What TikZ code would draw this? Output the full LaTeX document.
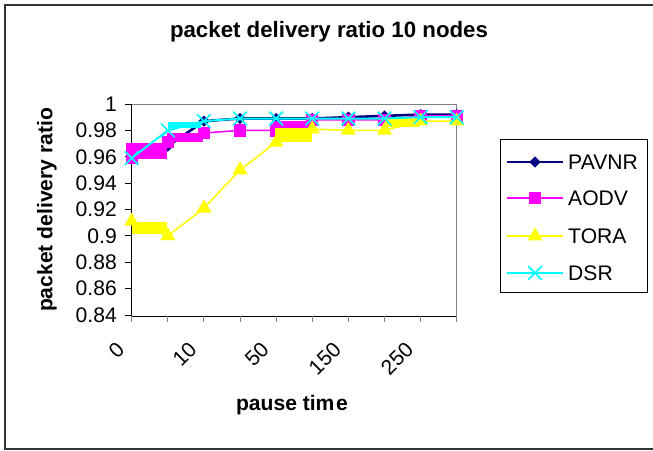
\documentclass[tikz,border=0pt]{standalone}
\usepackage{fontspec}
\setmainfont{Liberation Sans}
\usetikzlibrary{shapes.geometric,shapes.misc,positioning}

\definecolor{pavcol}{RGB}{0,0,128}
\definecolor{aodvcol}{RGB}{255,0,255}
\definecolor{toracol}{RGB}{255,255,0}
\definecolor{dsrcol}{RGB}{0,255,255}

\tikzset{
  txt/.style={font=\fontsize{18}{20}\selectfont,inner sep=0pt},
  boldtxt/.style={font=\fontsize{18}{20}\selectfont\bfseries,inner sep=0pt},
  pavline/.style={draw=pavcol,line width=2.2pt},
  aodvline/.style={draw=aodvcol,line width=1.3pt},
  toraline/.style={draw=toracol,line width=1.3pt},
  dsrline/.style={draw=dsrcol,line width=1.7pt},
  pavmark/.style={diamond,fill=pavcol,inner sep=0pt,minimum size=0.34cm},
  aodvmark/.style={rectangle,fill=aodvcol,inner sep=0pt,minimum size=0.37cm},
  toramark/.style={regular polygon,regular polygon sides=3,fill=toracol,inner sep=0pt,minimum size=0.52cm},
  dsrmark/.style={cross out,draw=dsrcol,line width=1.4pt,inner sep=0pt,minimum size=0.36cm}
}

\begin{document}
\begin{tikzpicture}[x=0.03cm,y=-0.03cm]
\useasboundingbox (0,0) rectangle (653,450);
% chart frame
\draw[line width=1.2pt,draw=black!80] (5,5) rectangle (690,449);

\node[boldtxt,font=\fontsize{19}{21}\selectfont\bfseries] (title) at (329,32) {packet delivery ratio 10 nodes};

% plot area
\draw[line width=0.8pt,draw=gray] (131.7,104) -- (456.7,104) -- (456.7,316);
\draw[line width=0.8pt] (131.7,104) -- (131.7,316) -- (456.7,316);
\foreach \v/\t in {1/1,0.98/0.98,0.96/0.96,0.94/0.94,0.92/0.92,0.9/0.9,0.88/0.88,0.86/0.86,0.84/0.84} {
  \draw[line width=0.8pt] (125,{104+1318.75*(1-\v)}) -- (131.7,{104+1318.75*(1-\v)});
  \node[txt,anchor=east] at (117,{104+1318.75*(1-\v)}) {\t};
}
\foreach \i in {0,...,9}
  \draw[line width=0.8pt,draw=gray] ({131.7+36.11*\i},316) -- ({131.7+36.11*\i},322);
\foreach \i/\t in {0/0,2/10,4/50,6/150,8/250}
  \node[txt,rotate=45,anchor=east] at ({131.7+36.11*\i-11},346) {\t};

\node[boldtxt,rotate=90] (ylab) at (47,210) {packet delivery ratio};
\node[boldtxt] (xlab) at (292,405) {pause tim\hspace{1.5pt}e};

% PAVNR
\foreach \v [count=\i from 0] in {0.960,0.968,0.987,0.989,0.989,0.989,0.990,0.991,0.992,0.992}
  \coordinate (pav\i) at ({131.7+36.11*\i},{104+1318.75*(1-\v)});
\draw[pavline] (pav0) \foreach \i in {1,...,9}{-- (pav\i)};
\foreach \i in {0,...,9} \node[pavmark] at (pav\i) {};

% AODV
\fill[aodvcol] (126,143) rectangle (167,159);
\fill[aodvcol] (167,133) rectangle (203,142);
\fill[aodvcol] (273,121) rectangle (312,128);
\foreach \v [count=\i from 0] in {0.959,0.971,0.978,0.980,0.980,0.988,0.988,0.988,0.991,0.991}
  \coordinate (aodv\i) at ({131.7+36.11*\i},{104+1318.75*(1-\v)});
\draw[aodvline] (aodv0) \foreach \i in {1,...,9}{-- (aodv\i)};
\foreach \i in {0,...,9} \node[aodvmark] at (aodv\i) {};

% TORA
\fill[toracol] (132,222) rectangle (167,234);
\fill[toracol] (275,128) rectangle (312,142);
\fill[toracol] (385,118) rectangle (420,127);
\foreach \v [count=\i from 0] in {0.911,0.900,0.921,0.950,0.971,0.981,0.980,0.980,0.987,0.987}
  \coordinate (tora\i) at ({131.7+36.11*\i},{104+1318.75*(1-\v)});
\draw[toraline] (tora0) \foreach \i in {1,...,9}{-- (tora\i)};
\foreach \i in {0,...,9} \node[toramark] at (tora\i) {};

% DSR
\fill[dsrcol] (168,122) rectangle (201,128);
\foreach \v [count=\i from 0] in {0.959,0.980,0.987,0.989,0.989,0.989,0.989,0.989,0.990,0.990}
  \coordinate (dsr\i) at ({131.7+36.11*\i},{104+1318.75*(1-\v)});
\draw[dsrline] (dsr0) \foreach \i in {1,...,9}{-- (dsr\i)};
\foreach \i in {0,...,9} \node[dsrmark] at (dsr\i) {};

% legend
\draw[line width=0.8pt] (500,139) rectangle (647,292);
\coordinate (lg1a) at (507,162); \coordinate (lg1b) at (563,162);
\coordinate (lg2a) at (507,198); \coordinate (lg2b) at (563,198);
\coordinate (lg3a) at (507,236); \coordinate (lg3b) at (563,236);
\coordinate (lg4a) at (507,273); \coordinate (lg4b) at (563,273);
\draw[pavline] (lg1a) -- (lg1b);
\node[pavmark] at (535,162) {};
\node[txt,anchor=west] (lgpav) at (568,162) {PAVNR};
\draw[aodvline] (lg2a) -- (lg2b);
\node[aodvmark] at (535,198) {};
\node[txt,anchor=west] (lgaodv) at (568,198) {AODV};
\draw[toraline] (lg3a) -- (lg3b);
\node[toramark] at (535,236) {};
\node[txt,anchor=west] (lgtora) at (568,236) {TORA};
\draw[dsrline] (lg4a) -- (lg4b);
\node[dsrmark] at (535,273) {};
\node[txt,anchor=west] (lgdsr) at (568,273) {DSR};
\end{tikzpicture}
\end{document}
